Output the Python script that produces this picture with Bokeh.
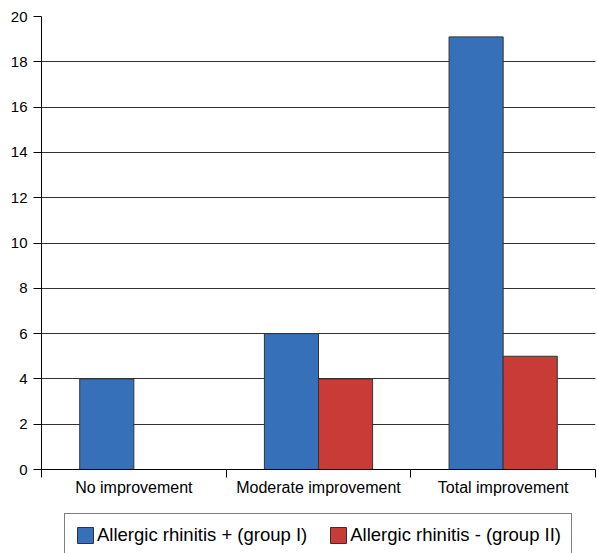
from bokeh.plotting import figure
from bokeh.layouts import column
from bokeh.models import ColumnDataSource, FixedTicker, Range1d, Legend, LegendItem
from bokeh.transform import dodge
from bokeh.embed import file_html
from bokeh.resources import INLINE

categories = ["No improvement", "Moderate improvement", "Total improvement"]
group1 = [4, 6, 19.1]
group2 = [0, 4, 5]
series_names = ["Allergic rhinitis + (group I)", "Allergic rhinitis - (group II)"]
y_ticks = [0, 2, 4, 6, 8, 10, 12, 14, 16, 18, 20]

FONT = "Liberation Sans"
BLUE = "#3670b8"
RED = "#c83b36"
EDGE = "#333333"

xpos = [i + 0.5 for i in range(len(categories))]
src = ColumnDataSource(dict(x=xpos, g1=group1, g2=group2))

p = figure(width=597, height=505, output_backend="svg", toolbar_location=None,
           x_range=Range1d(0, len(categories)), y_range=Range1d(0, 20),
           min_border_left=41, min_border_top=16, min_border_right=2, min_border_bottom=36)
p.outline_line_color = None

bw = 0.293
p.vbar(x=dodge("x", -bw / 2), top="g1", width=bw, source=src,
       fill_color=BLUE, line_color=EDGE, line_width=1)
p.vbar(x=dodge("x", bw / 2), top="g2", width=bw, source=src,
       fill_color=RED, line_color=EDGE, line_width=1)

# x axis: labels at centres, ticks at category boundaries
p.xaxis.ticker = FixedTicker(ticks=xpos, minor_ticks=list(range(len(categories) + 1)))
p.xaxis.major_label_overrides = {x: c for x, c in zip(xpos, categories)}
p.xaxis.major_tick_line_color = None
p.xaxis.major_tick_out = 0
p.xaxis.major_tick_in = 0
p.xaxis.minor_tick_out = 8
p.xaxis.minor_tick_in = 0
p.xaxis.minor_tick_line_color = "black"
p.xaxis.axis_line_color = "black"
p.xaxis.major_label_standoff = 1
p.xaxis.major_label_text_font = FONT
p.xaxis.major_label_text_font_size = "16px"
p.xaxis.major_label_text_color = "black"
p.xgrid.grid_line_color = None

p.yaxis.ticker = FixedTicker(ticks=y_ticks, minor_ticks=[])
p.yaxis.major_tick_out = 8
p.yaxis.major_tick_in = 0
p.yaxis.major_tick_line_color = "black"
p.yaxis.axis_line_color = "black"
p.yaxis.major_label_standoff = 6
p.yaxis.major_label_text_font = FONT
p.yaxis.major_label_text_font_size = "15px"
p.yaxis.major_label_text_color = "black"
p.ygrid.ticker = FixedTicker(ticks=y_ticks)
p.ygrid.grid_line_color = EDGE
p.ygrid.grid_line_width = 1

# legend strip below the chart (hidden renderers only provide the legend swatches)
lf = figure(width=597, height=48, output_backend="svg", toolbar_location=None,
            x_range=Range1d(0, 1), y_range=Range1d(0, 1),
            x_axis_type=None, y_axis_type=None,
            min_border_left=41, min_border_right=2, min_border_top=0, min_border_bottom=0)
lf.outline_line_color = None
lf.xgrid.grid_line_color = None
lf.ygrid.grid_line_color = None
k1 = lf.vbar(x="x", top="g1", width=0.1, source=src, fill_color=BLUE, line_color=EDGE, visible=False)
k2 = lf.vbar(x="x", top="g2", width=0.1, source=src, fill_color=RED, line_color=EDGE, visible=False)

legend = Legend(items=[LegendItem(label=series_names[0], renderers=[k1]),
                       LegendItem(label=series_names[1], renderers=[k2])],
                orientation="horizontal", location=(23, -4),
                label_text_font=FONT, label_text_font_size="18.5px",
                label_text_color="black", label_height=20,
                glyph_width=20, glyph_height=20, label_standoff=2,
                spacing=21, padding=10, margin=0,
                border_line_color="black", border_line_width=1,
                background_fill_alpha=1, inactive_fill_alpha=0)
lf.add_layout(legend, "center")

layout = column(p, lf, spacing=0)
open("out.html", "w").write(file_html(layout, INLINE))
